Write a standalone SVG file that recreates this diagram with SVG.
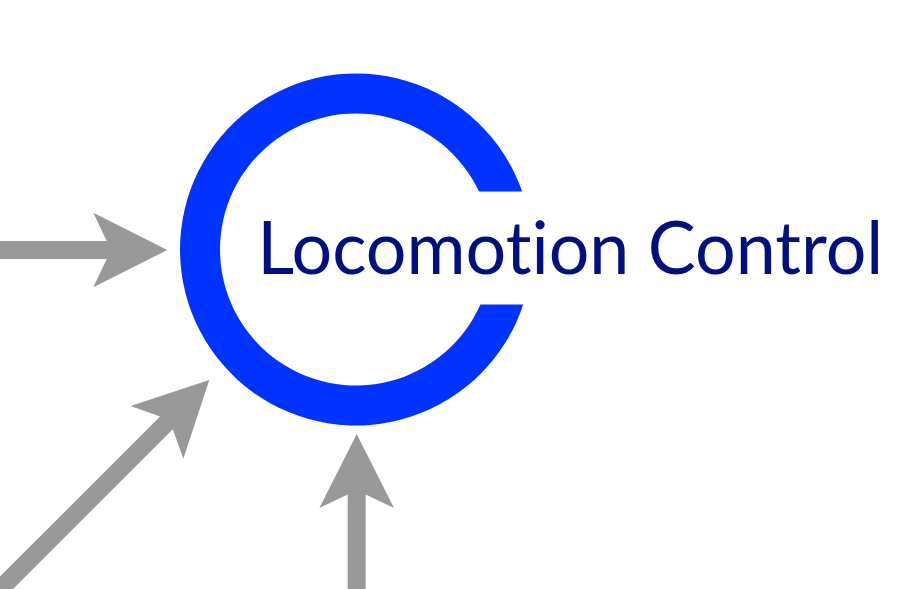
<svg xmlns="http://www.w3.org/2000/svg" xmlns:xlink="http://www.w3.org/1999/xlink" width="900" height="589" viewBox="0 0 900 589">
  <style>
    .arrow { fill: #999999; }
    .ring { fill: #0033FF; }
    .label { font-family: Lato, "Open Sans", "Liberation Sans", sans-serif; font-size: 73px; fill: #001080; font-variant-ligatures: none; font-feature-settings: "liga" 0, "clig" 0; }
  </style>
  <defs>
    <path id="arrowShape" d="M0,0 L-74,-37.3 L-60.6,-9 L-320,-9 L-320,9 L-60.6,9 L-74,37.3 Z"/>
  </defs>
  <rect x="0" y="0" width="900" height="589" fill="#FFFFFF"/>
  <g id="connectors">
    <use xlink:href="#arrowShape" href="#arrowShape" class="arrow" transform="translate(167.3,250)"/>
    <use xlink:href="#arrowShape" href="#arrowShape" class="arrow" transform="translate(209.3,380) rotate(-45)"/>
    <use xlink:href="#arrowShape" href="#arrowShape" class="arrow" transform="translate(356.7,434) rotate(-90)"/>
  </g>
  <g id="locomotion-control">
    <path class="ring" d="M522.17,191.5 A176,176 0 1 0 523.19,304.5 L480.38,304.5 A136,136 0 1 1 479.01,191.5 Z"/>
    <text class="label" x="257.3" y="274" textLength="626" lengthAdjust="spacingAndGlyphs">Locomotion Control</text>
  </g>
</svg>
